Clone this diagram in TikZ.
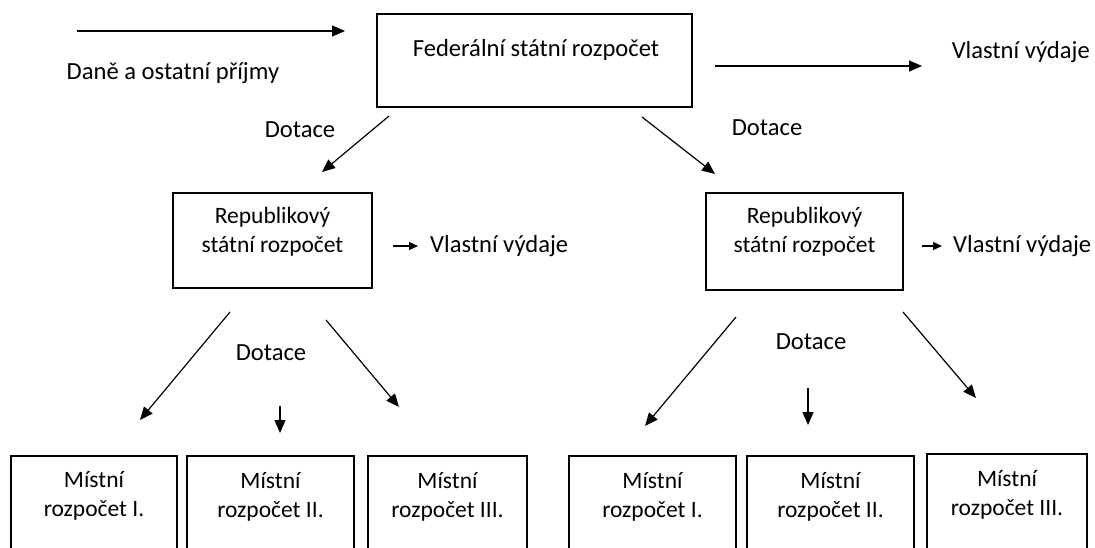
\documentclass[tikz,border=0pt]{standalone}
\usepackage{fontspec}
\setmainfont{Carlito}
\usetikzlibrary{arrows.meta}
\begin{document}
\begin{tikzpicture}[x=1pt,y=-1pt,
  every node/.style={font=\fontsize{23.5}{29}\selectfont, inner sep=0pt},
  big/.style={font=\fontsize{24.6}{30}\selectfont},
  box/.style={draw, line width=2pt},
  lbl/.style={align=center},
  arr/.style={line width=1.2pt, -{Triangle[length=13pt,width=11pt]}},
  smallarr/.style={line width=1.2pt, -{Triangle[length=9pt,width=8pt]}}]
\useasboundingbox (0,0) rectangle (1095,548);
\clip (0,0) rectangle (1095,548);
\fill[white] (0,0) rectangle (1095,548);

% federal level
\node[box, minimum width=315pt, minimum height=93pt] (fed) at (534.5,60.5) {};
\node[big] (fedtxt) at (536,50) {Federální státní rozpočet};
\coordinate (inS) at (77,31);
\coordinate (inE) at (345,31);
\draw[arr] (inS) -- (inE);
\node[big] (income) at (173,73) {Daně a ostatní příjmy};
\coordinate (fexS) at (715,66);
\coordinate (fexE) at (922,66);
\draw[arr] (fexS) -- (fexE);
\node[big, anchor=east] (fexp) at (1090,52) {Vlastní výdaje};

% grants to the republics
\node[big] (dotL) at (300,130) {Dotace};
\node[big] (dotR) at (767,128) {Dotace};
\coordinate (gLS) at (389,116);
\coordinate (gLE) at (322,172);
\coordinate (gRS) at (642,117);
\coordinate (gRE) at (715,174);
\draw[arr] (gLS) -- (gLE);
\draw[arr] (gRS) -- (gRE);

% republic level
\node[box, minimum width=199pt, minimum height=95pt] (repL) at (272.5,240.5) {};
\node[lbl] (repLt) at (272.5,231.5) {Republikový\\státní rozpočet};
\coordinate (xLS) at (393,246);
\coordinate (xLE) at (418,246);
\draw[smallarr] (xLS) -- (xLE);
\node[big, anchor=west] (expL) at (430,246) {Vlastní výdaje};

\node[box, minimum width=197pt, minimum height=97pt] (repR) at (804.5,241.5) {};
\node[lbl] (repRt) at (804.5,231.5) {Republikový\\státní rozpočet};
\coordinate (xRS) at (922,246);
\coordinate (xRE) at (942,246);
\draw[smallarr] (xRS) -- (xRE);
\node[big, anchor=west] (expR) at (953,246) {Vlastní výdaje};

% grants to local budgets, left republic
\node[big] (dotLL) at (271,353) {Dotace};
\coordinate (a1S) at (230,312);
\coordinate (a1E) at (140,420);
\coordinate (a2S) at (280,406);
\coordinate (a2E) at (280,433);
\coordinate (a3S) at (326,320);
\coordinate (a3E) at (399,407);
\draw[arr] (a1S) -- (a1E);
\draw[arr] (a2S) -- (a2E);
\draw[arr] (a3S) -- (a3E);

% grants to local budgets, right republic
\node[big] (dotRR) at (811,342) {Dotace};
\coordinate (b1S) at (736,317);
\coordinate (b1E) at (645,426);
\coordinate (b2S) at (808,388);
\coordinate (b2E) at (808,425);
\coordinate (b3S) at (903,312);
\coordinate (b3E) at (976,398);
\draw[arr] (b1S) -- (b1E);
\draw[arr] (b2S) -- (b2E);
\draw[arr] (b3S) -- (b3E);

% local budgets
\node[box, minimum width=166pt, minimum height=114pt] (ml1) at (94,513) {};
\node[box, minimum width=167pt, minimum height=114pt] (ml2) at (270.5,513) {};
\node[box, minimum width=159pt, minimum height=114pt] (ml3) at (447.5,513) {};
\node[box, minimum width=167pt, minimum height=114pt] (mr1) at (652.5,513) {};
\node[box, minimum width=167pt, minimum height=114pt] (mr2) at (830.5,513) {};
\node[box, minimum width=160pt, minimum height=116pt] (mr3) at (1007,512) {};

\node[lbl] (ml1t) at (94,496) {Místní\\rozpočet I.};
\node[lbl] (ml2t) at (270.5,497) {Místní\\rozpočet II.};
\node[lbl] (ml3t) at (447.5,497) {Místní\\rozpočet III.};
\node[lbl] (mr1t) at (652.5,497) {Místní\\rozpočet I.};
\node[lbl] (mr2t) at (830.5,497) {Místní\\rozpočet II.};
\node[lbl] (mr3t) at (1007,495) {Místní\\rozpočet III.};
\end{tikzpicture}
\end{document}
